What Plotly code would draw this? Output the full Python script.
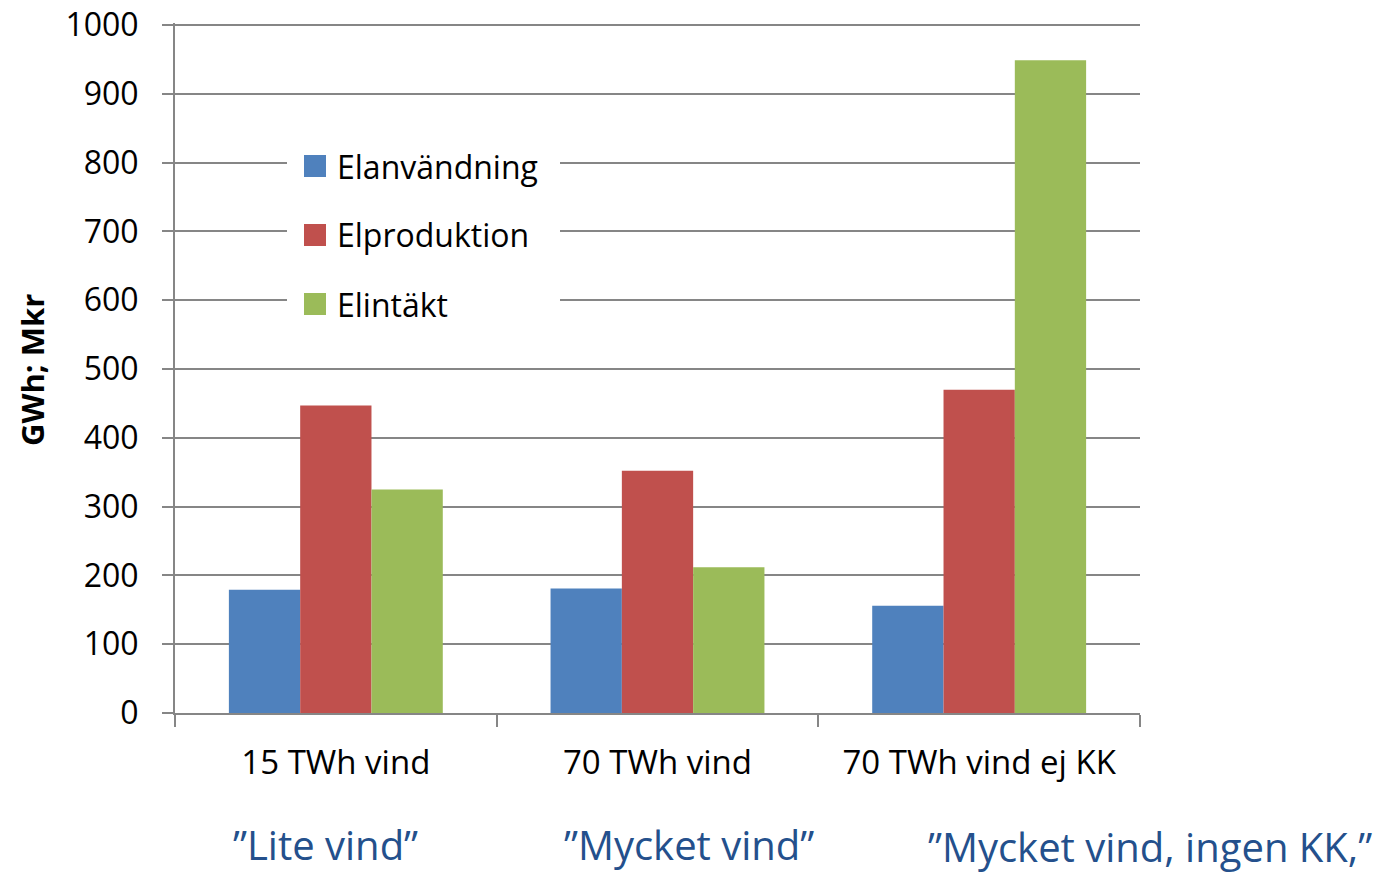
import plotly.graph_objects as go

# Scenario categories and series values (GWh; Mkr)
categories = ["15 TWh vind", "70 TWh vind", "70 TWh vind ej KK"]
scenario_names = ["”Lite vind”", "”Mycket vind”", "”Mycket vind, ingen KK,”"]
series_names = ["Elanvändning", "Elproduktion", "Elintäkt"]
elanvandning = [179, 181, 156]
elproduktion = [447, 352, 470]
elintakt = [325, 212, 949]
y_ticks = [0, 100, 200, 300, 400, 500, 600, 700, 800, 900, 1000]
y_max = 1003

colors = ["#4F81BD", "#C0504D", "#9BBB59"]
grid = "#868686"
font_family = "Open Sans, Noto Sans, sans-serif"

fig = go.Figure()
for name, vals, col in zip(series_names, [elanvandning, elproduktion, elintakt], colors):
    fig.add_trace(go.Bar(
        x=categories, y=vals, name=name,
        marker=dict(color=col, line=dict(width=0)),
        showlegend=False,
    ))

# Plot-area geometry in pixels, used to place the hand-built legend and captions
W, H = 1394, 873
L, R, T, B = 175, 254, 23, 160
pw, ph = W - L - R, H - T - B


def px_x(px):
    return (px - L) / pw


def px_y(py):
    return (H - B - py) / ph


shapes = []
annotations = []

# Legend: white box over the gridlines, square swatches and labels
shapes.append(dict(type="rect", xref="paper", yref="paper",
                   x0=px_x(287), x1=px_x(560), y0=px_y(330), y1=px_y(138),
                   fillcolor="white", line=dict(width=0), layer="above"))
legend_rows = [166, 235, 304]
for name, col, cy in zip(series_names, colors, legend_rows):
    shapes.append(dict(type="rect", xref="paper", yref="paper",
                       x0=px_x(304), x1=px_x(326), y0=px_y(cy + 11), y1=px_y(cy - 11),
                       fillcolor=col, line=dict(width=0), layer="above"))
    annotations.append(dict(text=name, xref="paper", yref="paper",
                            x=px_x(335), y=px_y(cy), xanchor="left", yanchor="middle",
                            showarrow=False, font=dict(size=32, color="black", family=font_family)))

# Scenario captions below the category labels
caption_pos = [(325, 844), (689, 844), (1150, 846)]
for txt, (cx, cy) in zip(scenario_names, caption_pos):
    annotations.append(dict(text=txt, xref="paper", yref="paper",
                            x=px_x(cx), y=px_y(cy), xanchor="center", yanchor="middle",
                            showarrow=False, font=dict(size=40, color="#24508C", family=font_family)))

# Rotated y-axis title
annotations.append(dict(text="<b>GWh; Mkr</b>", xref="paper", yref="paper",
                        x=px_x(32), y=px_y(370), xanchor="center", yanchor="middle",
                        textangle=-90, showarrow=False,
                        font=dict(size=31, color="black", family=font_family)))

fig.update_layout(
    width=W, height=H,
    margin=dict(l=L, r=R, t=T, b=B, pad=0),
    paper_bgcolor="white", plot_bgcolor="white",
    barmode="group", bargap=0.335, bargroupgap=0,
    font=dict(family=font_family, size=32, color="black"),
    shapes=shapes, annotations=annotations,
    xaxis=dict(
        automargin=False,
        showline=True, linecolor=grid, linewidth=2,
        ticks="outside", tickson="boundaries", ticklen=12, tickwidth=2, tickcolor=grid,
        showgrid=False, ticklabelstandoff=19,
        tickfont=dict(size=33, family=font_family, color="black"),
    ),
    yaxis=dict(
        automargin=False,
        range=[0, y_max], tickvals=y_ticks,
        showline=True, linecolor=grid, linewidth=2,
        showgrid=True, gridcolor=grid, gridwidth=2, zeroline=False,
        ticks="outside", ticklen=11, tickwidth=2, tickcolor=grid,
        ticklabelstandoff=17,
        tickfont=dict(size=32, family=font_family, color="black"),
    ),
)

fig.write_html("out.html")
